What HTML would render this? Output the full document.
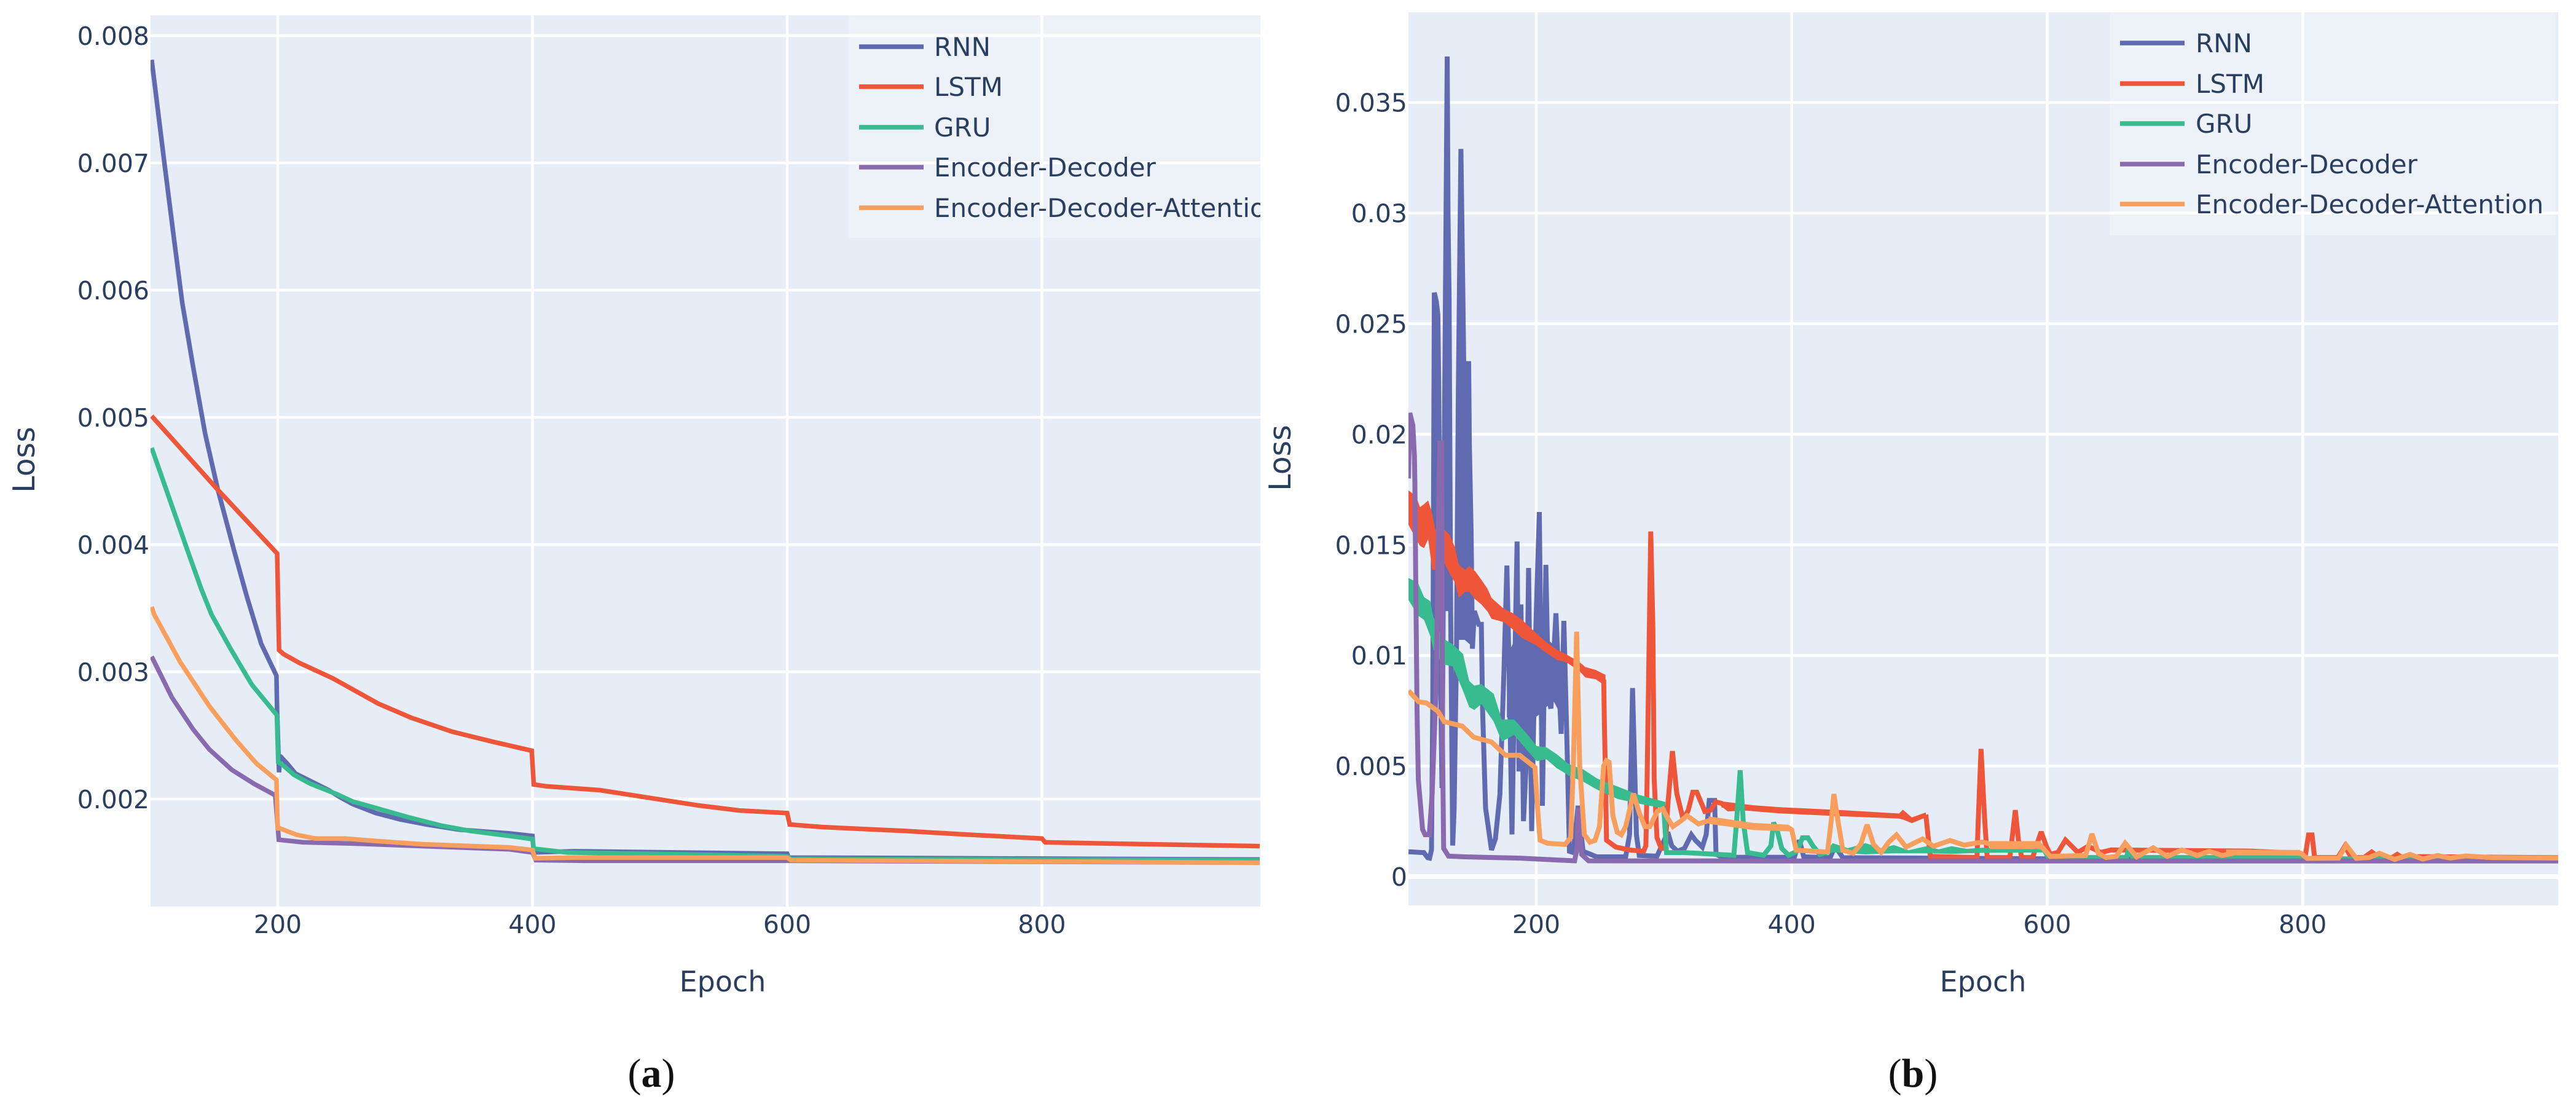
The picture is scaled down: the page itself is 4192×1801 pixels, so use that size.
<!DOCTYPE html>
<html lang="en">
<head>
<meta charset="utf-8">
<title>Training loss curves</title>
<style>
html,body{margin:0;padding:0;background:#fff;}
svg{display:block;}
text{font-family:"DejaVu Sans","Liberation Sans",sans-serif;fill:#2a3f5f;}
.cap{font-family:"Liberation Serif",serif;fill:#111;font-size:66px;text-anchor:middle;}
.leg{font-size:42px;}
.ttl{font-size:46px;}
.ttly{font-size:49px;}
.tick{font-size:41px;}
</style>
</head>
<body>
<svg id="chart" xmlns="http://www.w3.org/2000/svg" width="4192" height="1801" viewBox="0 0 4192 1801">
  <defs>
    <clipPath id="clipA"><rect x="245" y="25" width="1806" height="1450"/></clipPath>
    <clipPath id="clipB"><rect x="2292" y="20" width="1871" height="1453"/></clipPath>
  </defs>
  <rect x="245" y="25" width="1806" height="1450" fill="#e6edf7"/>
  <rect x="2292" y="20" width="1871" height="1453" fill="#e6edf7"/>
  <g id="gridA"></g>
  <g id="gridB"></g>
  <g id="marksA" clip-path="url(#clipA)"></g>
  <g id="marksB" clip-path="url(#clipB)"></g>
  <g id="ticksA"></g>
  <g id="ticksB"></g>

  <text class="ttl" x="1176" y="1613" text-anchor="middle">Epoch</text>
  <text class="ttl" x="3227" y="1613" text-anchor="middle">Epoch</text>
  <text class="ttly" transform="translate(56,748) rotate(-90)" text-anchor="middle">Loss</text>
  <text class="ttly" transform="translate(2100,745) rotate(-90)" text-anchor="middle">Loss</text>

  <g clip-path="url(#clipA)">
    <rect x="1381" y="25" width="670" height="362" fill="#ffffff" fill-opacity="0.3"/>
    <g><line x1="1398" x2="1503" y1="76" y2="76" stroke="#5f6ab0" stroke-width="7.5"/><text class="leg" x="1520" y="91">RNN</text></g>
    <g><line x1="1398" x2="1503" y1="141" y2="141" stroke="#ee5539" stroke-width="7.5"/><text class="leg" x="1520" y="156">LSTM</text></g>
    <g><line x1="1398" x2="1503" y1="207" y2="207" stroke="#38bb8f" stroke-width="7.5"/><text class="leg" x="1520" y="222">GRU</text></g>
    <g><line x1="1398" x2="1503" y1="272" y2="272" stroke="#8a6aae" stroke-width="7.5"/><text class="leg" x="1520" y="287">Encoder-Decoder</text></g>
    <g><line x1="1398" x2="1503" y1="338" y2="338" stroke="#f99f5d" stroke-width="7.5"/><text class="leg" x="1520" y="353">Encoder-Decoder-Attention</text></g>
  </g>

  <g>
    <rect x="3433" y="20" width="726" height="363" fill="#ffffff" fill-opacity="0.3"/>
    <g><line x1="3450" x2="3555" y1="70" y2="70" stroke="#5f6ab0" stroke-width="7.5"/><text class="leg" x="3573" y="85">RNN</text></g>
    <g><line x1="3450" x2="3555" y1="136" y2="136" stroke="#ee5539" stroke-width="7.5"/><text class="leg" x="3573" y="151">LSTM</text></g>
    <g><line x1="3450" x2="3555" y1="201" y2="201" stroke="#38bb8f" stroke-width="7.5"/><text class="leg" x="3573" y="216">GRU</text></g>
    <g><line x1="3450" x2="3555" y1="267" y2="267" stroke="#8a6aae" stroke-width="7.5"/><text class="leg" x="3573" y="282">Encoder-Decoder</text></g>
    <g><line x1="3450" x2="3555" y1="332" y2="332" stroke="#f99f5d" stroke-width="7.5"/><text class="leg" x="3573" y="347">Encoder-Decoder-Attention</text></g>
  </g>

  <text class="cap" x="1060" y="1768">(<tspan font-weight="bold">a</tspan>)</text>
  <text class="cap" x="3113" y="1768">(<tspan font-weight="bold">b</tspan>)</text>
</svg>

<script>
// All loss values are in units of 0.001.
const xTickValues = [200, 400, 600, 800];
const xTickLabels = ['200', '400', '600', '800'];
const aYTickValues = [2, 3, 4, 5, 6, 7, 8];
const aYTickLabels = ['0.002', '0.003', '0.004', '0.005', '0.006', '0.007', '0.008'];
const bYTickValues = [0, 5, 10, 15, 20, 25, 30, 35];
const bYTickLabels = ['0', '0.005', '0.01', '0.015', '0.02', '0.025', '0.03', '0.035'];

// Panel (a)
const aRnnEpochs = [101, 111, 118.7, 125, 133.5, 143, 153, 165.8, 175.5, 187, 199, 199.5, 201, 201.7, 207.3, 214, 240, 248, 259, 277, 296, 317, 342, 382, 400, 401, 433, 600, 601, 971];
const aRnnLoss = [7.81, 7.0, 6.39, 5.9, 5.4, 4.87, 4.43, 3.95, 3.6, 3.22, 2.97, 2.68, 2.21, 2.34, 2.28, 2.2, 2.07, 2.02, 1.96, 1.89, 1.84, 1.8, 1.76, 1.73, 1.71, 1.58, 1.59, 1.57, 1.54, 1.525];
const aLstmEpochs = [101, 153, 199.5, 201, 204.5, 217, 243, 279, 304.5, 336.8, 369, 399.4, 401, 411, 453, 491.6, 530, 562.6, 600, 602, 627, 691.6, 743, 800, 802.6, 853, 971];
const aLstmLoss = [5.01, 4.43, 3.93, 3.17, 3.14, 3.07, 2.95, 2.75, 2.64, 2.53, 2.45, 2.38, 2.115, 2.1, 2.07, 2.01, 1.95, 1.91, 1.89, 1.8, 1.78, 1.75, 1.72, 1.69, 1.66, 1.65, 1.63];
const aGruEpochs = [101, 130, 140, 148, 163, 179.6, 199.3, 200.4, 203.6, 212.8, 225.7, 246, 259, 277, 301.4, 329, 351, 382, 400, 401, 427, 511, 600, 603, 971];
const aGruLoss = [4.76, 3.93, 3.65, 3.45, 3.18, 2.9, 2.66, 2.29, 2.27, 2.19, 2.12, 2.04, 1.98, 1.93, 1.86, 1.79, 1.75, 1.71, 1.685, 1.61, 1.58, 1.566, 1.55, 1.53, 1.52];
const aEncEpochs = [101, 116.8, 133.4, 146.3, 163.9, 181.4, 198, 199.5, 200.8, 220, 259, 314, 382, 400, 402.6, 440, 600, 971];
const aEncLoss = [3.12, 2.8, 2.55, 2.39, 2.23, 2.12, 2.03, 1.84, 1.68, 1.66, 1.65, 1.63, 1.605, 1.58, 1.52, 1.515, 1.515, 1.5];
const aAttEpochs = [101, 103, 123.2, 146.3, 166.6, 183.2, 199, 199.9, 201.7, 214.6, 229.4, 253, 277.4, 314, 382, 400, 402, 433, 600, 603, 971];
const aAttLoss = [3.51, 3.45, 3.08, 2.73, 2.47, 2.28, 2.15, 1.77, 1.77, 1.72, 1.69, 1.69, 1.67, 1.645, 1.62, 1.6, 1.535, 1.54, 1.54, 1.52, 1.5];

// Panel (b)
const bRnnEpochs = [100, 112, 115, 116.5, 118, 119, 120.2, 121.8, 123, 123.7, 125.3, 126.2, 127.6, 129, 130.3, 130.9, 131.8, 133, 134.6, 135.7, 137.5, 139, 141, 142.5, 143.8, 147.1, 147.6, 149, 150, 151.5, 155, 157, 158, 160.3, 165, 168, 171.5, 174.7, 177, 179, 181, 183, 185, 186.5, 188, 190, 192, 194, 196.4, 199, 202.4, 204.8, 207.5, 209.6, 211.5, 215.4, 219.5, 221.6, 224.5, 226, 229, 232.7, 236.6, 247.3, 270, 273, 275.4, 278.4, 280.6, 294.5, 297.8, 303, 306, 310.6, 316, 321.4, 324.6, 330, 333, 335.4, 339.6, 340.7, 346, 402, 406, 409.4, 430, 434, 440, 600, 800, 1000];
const bRnnLoss = [1.12, 1.08, 0.85, 0.83, 1.2, 8, 26.4, 26, 25.4, 22, 8, 4, 16, 27, 37.08, 30, 26.1, 12, 1.4, 3, 10, 22, 32.9, 26.5, 20.4, 23.3, 19.6, 15.6, 10.3, 12, 11.4, 11.4, 7.5, 3.1, 1.2, 1.7, 3.7, 9.25, 14.06, 8.7, 1.9, 9, 15.15, 4.75, 12.3, 2.5, 5, 13.95, 2.05, 9.95, 16.48, 3.2, 14.09, 7.95, 7.6, 11.9, 6.45, 11.56, 5, 1.14, 1.08, 3.2, 1.14, 0.89, 0.89, 1.89, 8.52, 1.89, 0.95, 0.92, 1.33, 2.0, 1.39, 1.14, 1.27, 1.89, 1.64, 1.33, 1.89, 3.44, 3.44, 1.0, 0.87, 0.87, 1.64, 0.89, 0.85, 1.37, 0.85, 0.8, 0.78, 0.75];
const bRnnBandAEpochs = [119.6, 123.5];
const bRnnBandAHigh = [24, 23];
const bRnnBandALow = [11, 11];
const bRnnBandBEpochs = [128.5, 132];
const bRnnBandBHigh = [28, 26];
const bRnnBandBLow = [12, 12];
const bRnnBandCEpochs = [139.2, 141.5, 144, 148, 150.5];
const bRnnBandCHigh = [24, 30, 20.4, 21, 14];
const bRnnBandCLow = [10.7, 10.7, 10.7, 10.5, 10.3];
const bRnnBandDEpochs = [177, 186, 195, 204, 213, 222];
const bRnnBandDHigh = [10, 11, 10.5, 11, 10.5, 10];
const bRnnBandDLow = [7.2, 7, 7, 7.4, 8, 7];

const bLstmBandEpochs = [100, 105.8, 109, 112.2, 115.4, 118.6, 121, 128.2, 132.2, 136.2, 139.4, 144.3, 147.5, 152.3, 157, 161.9, 165, 174.7, 181, 189, 200, 208, 216, 224, 233.7, 238.5, 246.5, 251.3, 254.2];
const bLstmBandHigh = [17.46, 17.2, 16.7, 16.84, 17.0, 16.4, 15.67, 15.67, 15.45, 14.9, 14.1, 13.87, 14.04, 13.8, 13.42, 13.0, 12.6, 12.1, 11.93, 11.6, 11.0, 10.6, 10.26, 10.03, 9.7, 9.47, 9.34, 9.2, 9.12];
const bLstmBandLow = [15.9, 15.28, 14.95, 14.85, 15.26, 13.87, 13.87, 14.15, 13.7, 13.3, 12.6, 12.87, 12.87, 12.53, 12.3, 11.98, 11.65, 11.5, 11.2, 10.78, 10.45, 10.1, 9.8, 9.67, 9.29, 9.0, 8.92, 8.73, 8.6];
const bLstmEpochs = [252.8, 253.3, 254, 255, 262.3, 273, 284, 285.8, 286.8, 288.5, 289.6, 291.3, 292.3, 294.5, 297.8, 301, 303, 306.6, 310, 315, 319, 322.5, 325.7, 332, 336.4, 340.7, 345, 350.4, 369.7, 392];
const bLstmLoss = [8.9, 7, 5, 1.64, 1.33, 1.2, 1.14, 1.39, 4.4, 11.2, 15.6, 11.2, 4.4, 1.76, 1.27, 1.27, 3.25, 5.67, 3.75, 2.57, 3.0, 3.81, 3.81, 2.94, 3.0, 3.37, 3.31, 3.06, 3.1, 3.0];
const bLstmBand2Epochs = [345, 370, 392, 440, 484, 487, 494, 505];
const bLstmBand2High = [3.4, 3.22, 3.13, 3.0, 2.85, 3.02, 2.67, 2.9];
const bLstmBand2Low = [3.12, 2.95, 2.85, 2.72, 2.62, 2.58, 2.41, 2.67];
const bLstmTailEpochs = [505, 506.5, 508.5, 545, 546, 548.2, 551, 553, 570.7, 572.7, 575, 577.5, 580, 588.6, 592.5, 595.3, 599.3, 602.4, 608.4, 614.3, 624, 632, 642, 650, 759, 798, 801.8, 804.6, 807.3, 809.3, 827.5, 833, 838, 848, 854, 860, 870, 874, 878, 892, 1000];
const bLstmTailLoss = [2.8, 1.93, 0.91, 0.86, 2.58, 5.77, 2.58, 0.86, 0.86, 1.83, 3.0, 1.65, 0.86, 0.86, 1.56, 2.02, 1.37, 1.0, 1.09, 1.65, 1.09, 1.37, 1.09, 1.2, 1.15, 1.05, 0.86, 1.88, 1.88, 0.86, 0.86, 1.37, 0.86, 0.86, 1.11, 0.86, 0.86, 1.0, 0.86, 0.9, 0.85];

const bGruBandEpochs = [100, 107.4, 112.2, 117, 119.4, 126.6, 134.6, 142.6, 147.5, 151.5, 157, 166.7, 173, 182.7, 192.4, 200.4, 208, 216, 225.6, 236.9, 248, 264, 280, 301];
const bGruBandHigh = [13.5, 13.28, 12.63, 12.45, 11.75, 10.78, 10.5, 10.07, 8.84, 8.63, 8.7, 8.26, 7.1, 7.1, 6.47, 5.9, 5.84, 5.53, 5.08, 4.84, 4.42, 4.06, 3.7, 3.37];
const bGruBandLow = [12.5, 11.8, 11.6, 10.87, 10.3, 9.6, 9.5, 8.4, 7.66, 7.53, 7.8, 7.0, 6.1, 6.4, 5.73, 5.22, 5.3, 4.9, 4.56, 4.28, 3.92, 3.5, 3.3, 3.06];
const bGruEpochs = [299.8, 302, 316, 354.7, 356.8, 359.6, 362, 365.4, 378, 383.7, 385.8, 389, 392.2, 397.6, 404, 408.4, 412.6, 416.5, 422, 428];
const bGruLoss = [3.1, 1.08, 1.08, 0.96, 2.5, 4.8, 2.5, 1.08, 0.96, 1.39, 2.44, 2.0, 1.27, 0.96, 1.14, 1.75, 1.75, 1.39, 1.0, 1.1];
const bGruBand2Epochs = [428, 432, 444, 457.8, 470, 480, 491.5, 505.3, 515, 525, 537, 549, 598];
const bGruBand2High = [1.2, 1.51, 1.28, 1.51, 1.28, 1.42, 1.19, 1.37, 1.23, 1.37, 1.25, 1.3, 1.23];
const bGruBand2Low = [1.0, 1.09, 1.05, 1.0, 1.03, 1.05, 1.05, 1.05, 1.04, 1.02, 1.05, 1.07, 1.09];
const bGruTailEpochs = [598, 601, 662, 664, 667, 798.6, 803, 1000];
const bGruTailLoss = [1.15, 0.86, 0.86, 1.28, 0.86, 0.86, 0.8, 0.8];

const bEncEpochs = [100, 101, 103.4, 104.6, 105, 105.6, 106.7, 107.7, 111, 113, 116.3, 118.5, 121.7, 123.5, 124.5, 126, 126.6, 127.5, 131.3, 144, 187, 230, 232, 232.7, 235.5, 241, 416, 1000];
const bEncLoss = [18, 20.96, 20.4, 19, 17.8, 13.67, 7.47, 4.37, 2.13, 1.89, 1.89, 3.75, 8.7, 16.15, 19.6, 19.6, 6.2, 1.27, 0.92, 0.89, 0.83, 0.71, 1.27, 3.1, 1.0, 0.71, 0.7, 0.7];

const bAttEpochs = [100, 108, 114, 123, 128, 142, 151, 165, 176, 187, 199, 201, 203, 209, 222.6, 227, 229, 231.6, 234, 237.6, 242, 246, 249.5, 252.7, 255, 257, 260, 263.4, 266.6, 270, 276, 280.6, 285, 289, 294.6, 299, 303, 307, 313, 318, 327, 337.5, 350, 370, 397.6, 400, 403.5, 428, 431, 433, 436, 440, 448, 454, 459, 464, 470, 476, 482, 489.5, 502.5, 511, 524, 535, 549, 559, 594.5, 602.4, 630, 635, 640, 646, 654, 661, 670, 683, 694, 705.5, 717.4, 727, 737, 749, 798.6, 803.4, 828, 834, 842, 852, 860, 872, 884, 894, 905.6, 915.5, 927.4, 947, 1000];
const bAttLoss = [8.4, 7.9, 7.85, 7.47, 7.0, 6.8, 6.3, 6.08, 5.48, 5.48, 4.93, 3.1, 1.64, 1.5, 1.45, 1.76, 5.0, 11.07, 5, 1.9, 1.55, 1.63, 2.26, 5, 5.24, 5.17, 2.75, 2.0, 1.89, 2.26, 3.75, 2.88, 2.26, 2.26, 2.94, 3.06, 2.63, 2.26, 2.5, 2.75, 2.38, 2.57, 2.38, 2.26, 2.2, 2.11, 1.19, 1.11, 2.58, 3.73, 2.58, 1.19, 1.05, 1.46, 2.34, 1.46, 1.09, 1.56, 1.88, 1.33, 1.7, 1.37, 1.63, 1.42, 1.56, 1.42, 1.42, 0.91, 0.95, 1.93, 1.05, 0.86, 0.91, 1.51, 0.89, 1.3, 0.91, 1.2, 0.95, 1.14, 0.95, 1.09, 1.05, 0.82, 0.83, 1.42, 0.82, 0.86, 1.05, 0.77, 1.0, 0.79, 0.95, 0.83, 0.93, 0.86, 0.83];
const bAttBandEpochs = [335, 370, 398];
const bAttBandHigh = [2.72, 2.42, 2.34];
const bAttBandLow = [2.38, 2.1, 2.04];
const bAttBand2Epochs = [555, 595];
const bAttBand2High = [1.6, 1.6];
const bAttBand2Low = [1.24, 1.24];
const bAttBand3Epochs = [740, 798];
const bAttBand3High = [1.22, 1.2];
const bAttBand3Low = [0.95, 0.95];

const COLORS = {rnn: '#5f6ab0', lstm: '#ee5539', gru: '#38bb8f', enc: '#8a6aae', att: '#f99f5d'};
const SVGNS = 'http://www.w3.org/2000/svg';
const LINE_WIDTH_A = 7.5;
const LINE_WIDTH_B = 8;

function xA(epoch) { return 452 + (epoch - 200) * 2.0725; }
function yA(loss) { return 58 + (8 - loss) * 207; }
function xB(epoch) { return 2500 + (epoch - 200) * 2.0788; }
function yB(loss) { return 1426 - loss * 35.98; }

function makeSvg(tag, parent) {
  const el = document.createElementNS(SVGNS, tag);
  parent.appendChild(el);
  return el;
}

function drawLine(parent, name, xs, ys, xFn, yFn, color, width) {
  const el = makeSvg('path', parent);
  
  
  el.setAttribute('d', xs.map((v, i) => (i ? 'L' : 'M') + xFn(v).toFixed(1) + ' ' + yFn(ys[i]).toFixed(1)).join(''));
  el.setAttribute('fill', 'none');
  el.setAttribute('stroke', color);
  el.setAttribute('stroke-width', width);
  el.setAttribute('stroke-linejoin', 'miter');
  el.setAttribute('stroke-miterlimit', '2');
}

function drawBand(parent, name, xs, hi, lo, xFn, yFn, color) {
  const el = makeSvg('path', parent);
  
  
  const top = xs.map((v, i) => (i ? 'L' : 'M') + xFn(v).toFixed(1) + ' ' + yFn(hi[i]).toFixed(1)).join('');
  const bot = xs.map((v, i) => 'L' + xFn(xs[xs.length - 1 - i]).toFixed(1) + ' ' + yFn(lo[xs.length - 1 - i]).toFixed(1)).join('');
  el.setAttribute('d', top + bot + 'Z');
  el.setAttribute('fill', color);
}

function drawAxes(gridId, ticksId, xFn, yFn, yVals, yLabels, left, right, top, bottom, labelX) {
  const grid = document.getElementById(gridId);
  const ticks = document.getElementById(ticksId);
  xTickValues.forEach((v, i) => {
    const ln = makeSvg('line', grid);
    
    
    ln.setAttribute('x1', xFn(v));
    ln.setAttribute('x2', xFn(v));
    ln.setAttribute('y1', top);
    ln.setAttribute('y2', bottom);
    ln.setAttribute('stroke', '#fff');
    ln.setAttribute('stroke-width', 4.5);
    const t = makeSvg('text', ticks);
    
    
    t.setAttribute('class', 'tick');
    t.setAttribute('x', xFn(v));
    t.setAttribute('y', 1518);
    t.setAttribute('text-anchor', 'middle');
    t.textContent = xTickLabels[i];
  });
  yVals.forEach((v, i) => {
    const ln = makeSvg('line', grid);
    
    
    ln.setAttribute('x1', left);
    ln.setAttribute('x2', right);
    ln.setAttribute('y1', yFn(v));
    ln.setAttribute('y2', yFn(v));
    ln.setAttribute('stroke', '#fff');
    ln.setAttribute('stroke-width', v === 0 ? 8 : 4.5);
    const t = makeSvg('text', ticks);
    
    
    t.setAttribute('class', 'tick');
    t.setAttribute('x', labelX);
    t.setAttribute('y', yFn(v) + 15);
    t.setAttribute('text-anchor', 'end');
    t.textContent = yLabels[i];
  });
}

drawAxes('gridA', 'ticksA', xA, yA, aYTickValues, aYTickLabels, 245, 2051, 25, 1475, 243);
drawAxes('gridB', 'ticksB', xB, yB, bYTickValues, bYTickLabels, 2292, 4163, 20, 1473, 2290);

const marksA = document.getElementById('marksA');
drawLine(marksA, 'series-rnn', aRnnEpochs, aRnnLoss, xA, yA, COLORS.rnn, LINE_WIDTH_A);
drawLine(marksA, 'series-lstm', aLstmEpochs, aLstmLoss, xA, yA, COLORS.lstm, LINE_WIDTH_A);
drawLine(marksA, 'series-gru', aGruEpochs, aGruLoss, xA, yA, COLORS.gru, LINE_WIDTH_A);
drawLine(marksA, 'series-encoder-decoder', aEncEpochs, aEncLoss, xA, yA, COLORS.enc, LINE_WIDTH_A);
drawLine(marksA, 'series-encoder-decoder-attention', aAttEpochs, aAttLoss, xA, yA, COLORS.att, LINE_WIDTH_A);

const marksB = document.getElementById('marksB');
drawLine(marksB, 'series-rnn', bRnnEpochs, bRnnLoss, xB, yB, COLORS.rnn, LINE_WIDTH_B);
drawBand(marksB, 'series-rnn-band-a', bRnnBandAEpochs, bRnnBandAHigh, bRnnBandALow, xB, yB, COLORS.rnn);
drawBand(marksB, 'series-rnn-band-b', bRnnBandBEpochs, bRnnBandBHigh, bRnnBandBLow, xB, yB, COLORS.rnn);
drawBand(marksB, 'series-rnn-band-c', bRnnBandCEpochs, bRnnBandCHigh, bRnnBandCLow, xB, yB, COLORS.rnn);
drawBand(marksB, 'series-rnn-band-d', bRnnBandDEpochs, bRnnBandDHigh, bRnnBandDLow, xB, yB, COLORS.rnn);
drawBand(marksB, 'series-lstm-band-early', bLstmBandEpochs, bLstmBandHigh, bLstmBandLow, xB, yB, COLORS.lstm);
drawLine(marksB, 'series-lstm', bLstmEpochs, bLstmLoss, xB, yB, COLORS.lstm, LINE_WIDTH_B);
drawBand(marksB, 'series-lstm-band-mid', bLstmBand2Epochs, bLstmBand2High, bLstmBand2Low, xB, yB, COLORS.lstm);
drawLine(marksB, 'series-lstm-tail', bLstmTailEpochs, bLstmTailLoss, xB, yB, COLORS.lstm, LINE_WIDTH_B);
drawBand(marksB, 'series-gru-band-early', bGruBandEpochs, bGruBandHigh, bGruBandLow, xB, yB, COLORS.gru);
drawLine(marksB, 'series-gru', bGruEpochs, bGruLoss, xB, yB, COLORS.gru, LINE_WIDTH_B);
drawBand(marksB, 'series-gru-band-mid', bGruBand2Epochs, bGruBand2High, bGruBand2Low, xB, yB, COLORS.gru);
drawLine(marksB, 'series-gru-tail', bGruTailEpochs, bGruTailLoss, xB, yB, COLORS.gru, LINE_WIDTH_B);
drawLine(marksB, 'series-encoder-decoder', bEncEpochs, bEncLoss, xB, yB, COLORS.enc, LINE_WIDTH_B);
drawLine(marksB, 'series-encoder-decoder-attention', bAttEpochs, bAttLoss, xB, yB, COLORS.att, LINE_WIDTH_B);
drawBand(marksB, 'series-attention-band-a', bAttBandEpochs, bAttBandHigh, bAttBandLow, xB, yB, COLORS.att);
drawBand(marksB, 'series-attention-band-b', bAttBand2Epochs, bAttBand2High, bAttBand2Low, xB, yB, COLORS.att);
drawBand(marksB, 'series-attention-band-c', bAttBand3Epochs, bAttBand3High, bAttBand3Low, xB, yB, COLORS.att);
</script>
</body>
</html>
